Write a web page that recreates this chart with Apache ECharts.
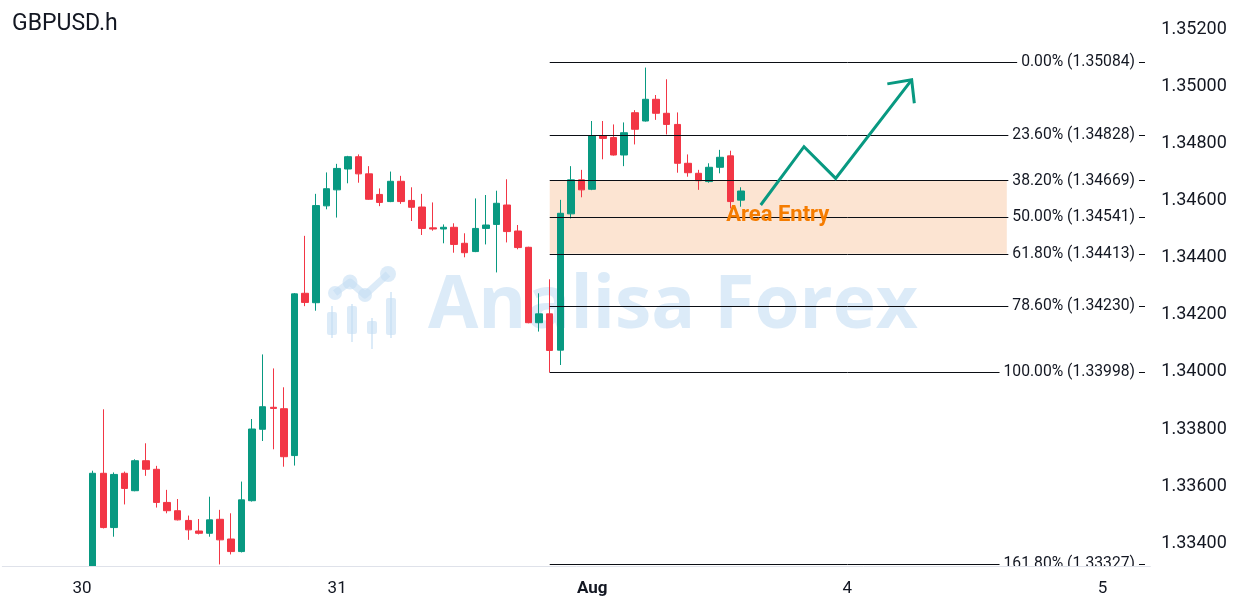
<!DOCTYPE html>
<html>
<head>
<meta charset="utf-8">
<title>GBPUSD.h</title>
<script src="https://cdn.jsdelivr.net/npm/echarts@6/dist/echarts.min.js"></script>
<style>
  html, body { margin: 0; padding: 0; background: #fff; }
  #chart { width: 1247px; height: 610px; }
</style>
</head>
<body>
<div id="chart"></div>
<script>
// hourly candles, Jul 30 01:00 -> Aug 1 13:00 (slot k = hours since Jul 30 00:00)
const opens = [1.33290, 1.33645, 1.33455, 1.33645, 1.33584, 1.33689, 1.33659, 1.33543, 1.33514, 1.33480,
  1.33443, 1.33435, 1.33484, 1.33415, 1.33371, 1.33549, 1.33799, 1.33876, 1.33871, 1.33707,
  1.34275, 1.34242, 1.34581, 1.34637, 1.34710, 1.34753, 1.34693, 1.34621, 1.34596, 1.34667,
  1.34600, 1.34577, 1.34504, 1.34500, 1.34506, 1.34450, 1.34421, 1.34502, 1.34516, 1.34584,
  1.34493, 1.34436, 1.34172, 1.34203, 1.34076, 1.34553, 1.34672, 1.34639, 1.34826, 1.34820,
  1.34759, 1.34907, 1.34878, 1.34954, 1.34905, 1.34866, 1.34730, 1.34695, 1.34666, 1.34716,
  1.34756, 1.34601];
const closes = [1.33645, 1.33455, 1.33641, 1.33592, 1.33689, 1.33659, 1.33543, 1.33514, 1.33482, 1.33447,
  1.33435, 1.33482, 1.33412, 1.33371, 1.33552, 1.33800, 1.33878, 1.33872, 1.33703, 1.34273,
  1.34243, 1.34582, 1.34641, 1.34712, 1.34753, 1.34693, 1.34604, 1.34593, 1.34667, 1.34596,
  1.34576, 1.34502, 1.34500, 1.34506, 1.34446, 1.34417, 1.34502, 1.34514, 1.34590, 1.34491,
  1.34435, 1.34172, 1.34203, 1.34075, 1.34555, 1.34672, 1.34637, 1.34826, 1.34817, 1.34759,
  1.34837, 1.34849, 1.34954, 1.34905, 1.34866, 1.34730, 1.34697, 1.34669, 1.34716, 1.34751,
  1.34596, 1.34633];
const lows = [1.33270, 1.33452, 1.33423, 1.33536, 1.33582, 1.33636, 1.33525, 1.33505, 1.33480, 1.33412,
  1.33431, 1.33423, 1.33326, 1.33361, 1.33368, 1.33546, 1.33758, 1.33729, 1.33668, 1.33672,
  1.34230, 1.34214, 1.34569, 1.34540, 1.34660, 1.34662, 1.34602, 1.34580, 1.34594, 1.34588,
  1.34528, 1.34479, 1.34494, 1.34450, 1.34417, 1.34401, 1.34419, 1.34446, 1.34348, 1.34453,
  1.34429, 1.34170, 1.34141, 1.33998, 1.34024, 1.34537, 1.34611, 1.34636, 1.34744, 1.34757,
  1.34720, 1.34796, 1.34876, 1.34882, 1.34831, 1.34697, 1.34683, 1.34637, 1.34662, 1.34695,
  1.34572, 1.34578];
const highs = [1.33654, 1.33869, 1.33648, 1.33651, 1.33694, 1.33750, 1.33671, 1.33587, 1.33555, 1.33497,
  1.33485, 1.33563, 1.33517, 1.33505, 1.33616, 1.33835, 1.34061, 1.34012, 1.33946, 1.34276,
  1.34476, 1.34623, 1.34698, 1.34728, 1.34756, 1.34761, 1.34720, 1.34642, 1.34701, 1.34686,
  1.34646, 1.34623, 1.34593, 1.34516, 1.34520, 1.34485, 1.34607, 1.34619, 1.34634, 1.34674,
  1.34514, 1.34438, 1.34275, 1.34324, 1.34602, 1.34720, 1.34707, 1.34878, 1.34878, 1.34866,
  1.34873, 1.34916, 1.35065, 1.34969, 1.35024, 1.34908, 1.34761, 1.34707, 1.34730, 1.34777,
  1.34774, 1.34646];
const firstCandle = 1;          // slot of first candle
const slotFrom = -7, slotTo = 100;

const dayTicks = { 0: '30', 24: '31', 48: 'Aug', 72: '4', 96: '5' };
const priceTicks = [1.334, 1.336, 1.338, 1.340, 1.342, 1.344, 1.346, 1.348, 1.350, 1.352];

const fibPct = ['0.00%', '23.60%', '38.20%', '50.00%', '61.80%', '78.60%', '100.00%', '161.80%'];
const fibPrice = [1.35084, 1.34828, 1.34669, 1.34541, 1.34413, 1.34230, 1.33998, 1.33327];
const fibFrom = 44;             // slot where the fib lines start
const zoneTop = 1.34669, zoneBottom = 1.34413, zoneFrom = 44, zoneTo = 87;

// projected path (slot, price)
const arrowPath = [[63.85, 1.34584], [67.92, 1.34788], [70.9, 1.34677], [78.05, 1.35022]];
const arrowHead = [[75.76, 1.35008], [78.05, 1.35022], [78.3, 1.34940]];
const entryText = 'Area Entry', entryAt = [60.6, 1.34546];

const slots = [];
for (let k = slotFrom; k <= slotTo; k++) slots.push('s' + k);
const idx = k => k - slotFrom;

const candles = opens.map((o, i) => [idx(firstCandle + i), o, closes[i], lows[i], highs[i]]);

const fibLines = fibPrice.map((p, i) => [
  { coord: [idx(fibFrom), p], name: fibPct[i] + ' (' + p.toFixed(5) + ')' },
  { coord: [idx(slotTo), p] }
]);

const font = 'Roboto, "Noto Sans", sans-serif';
const chart = echarts.init(document.getElementById('chart'));

chart.setOption({
  animation: false,
  backgroundColor: '#fff',
  title: {
    text: 'GBPUSD.h', left: 7, top: 8,
    textStyle: { color: '#131722', fontSize: 23, fontWeight: 'normal', fontFamily: font }
  },
  grid: { left: 2.3, right: 96.7, top: 0, bottom: 44 },
  xAxis: {
    type: 'category',
    data: slots,
    boundaryGap: true,
    z: 60,
    axisLine: { lineStyle: { color: '#dfe2ea', width: 1 } },
    axisTick: { show: false },
    splitLine: { show: false },
    axisLabel: {
      margin: 14,
      color: '#131722',
      fontSize: 17,
      fontFamily: font,
      interval: i => dayTicks[i + slotFrom] !== undefined,
      formatter: (v, i) => {
        const t = dayTicks[i + slotFrom];
        return t === 'Aug' ? '{b|Aug}' : t;
      },
      rich: { b: { fontWeight: 'bold', fontSize: 17, color: '#131722', fontFamily: font } }
    }
  },
  yAxis: {
    type: 'value',
    position: 'right',
    min: 1.333205,
    max: 1.353015,
    scale: true,
    axisLine: { show: false },
    axisTick: { show: false },
    splitLine: { show: false },
    axisLabel: {
      customValues: priceTicks,
      margin: 11,
      color: '#131722',
      fontSize: 18,
      fontFamily: font,
      formatter: v => v.toFixed(5)
    }
  },
  series: [{
    type: 'candlestick',
    data: candles,
    encode: { x: 0, y: [1, 2, 3, 4] },
    barWidth: 7,
    itemStyle: {
      color: '#089981', color0: '#f23645',
      borderColor: '#089981', borderColor0: '#f23645', borderWidth: 1
    },
    markArea: {
      silent: true,
      itemStyle: { color: '#fce4d2' },
      data: [[{ coord: [idx(zoneFrom), zoneTop] }, { coord: [idx(zoneTo), zoneBottom] }]]
    },
    markLine: {
      silent: true,
      symbol: ['none', 'none'],
      lineStyle: { color: '#0b0e14', width: 1, type: 'solid' },
      label: {
        show: true,
        position: 'insideEnd',
        distance: 6,
        color: '#131722',
        fontSize: 15.7,
        fontFamily: font,
        backgroundColor: '#fff',
        padding: [1, 4],
        formatter: '{b}'
      },
      data: fibLines
    }
  }]
});

// pixel helpers for the drawn annotations
const p0 = chart.convertToPixel({ xAxisIndex: 0 }, 0);
const p1 = chart.convertToPixel({ xAxisIndex: 0 }, 100);
const toPx = ([k, price]) => [
  p0 + (idx(k)) * (p1 - p0) / 100,
  chart.convertToPixel({ yAxisIndex: 0 }, price)
];
const entryPx = toPx(entryAt);

const wmColor = 'rgba(196, 222, 243, 0.6)';
chart.setOption({
  graphic: [
    {
      type: 'group', z: 40, silent: true,
      children: [
        { type: 'polyline', shape: { points: [[335, 293], [350, 282], [365, 295], [388, 274]] },
          style: { stroke: wmColor, lineWidth: 7, fill: null, lineJoin: 'round' } },
        { type: 'circle', shape: { cx: 335, cy: 293, r: 7 }, style: { fill: wmColor } },
        { type: 'circle', shape: { cx: 350, cy: 282, r: 7.5 }, style: { fill: wmColor } },
        { type: 'circle', shape: { cx: 365, cy: 295, r: 7 }, style: { fill: wmColor } },
        { type: 'circle', shape: { cx: 388, cy: 274, r: 8 }, style: { fill: wmColor } },
        { type: 'rect', shape: { x: 327, y: 312, width: 10, height: 23, r: 2 }, style: { fill: wmColor } },
        { type: 'rect', shape: { x: 347, y: 306, width: 10, height: 28, r: 2 }, style: { fill: wmColor } },
        { type: 'rect', shape: { x: 367, y: 321, width: 10, height: 13, r: 2 }, style: { fill: wmColor } },
        { type: 'rect', shape: { x: 386, y: 298, width: 10, height: 37, r: 2 }, style: { fill: wmColor } },
        { type: 'line', shape: { x1: 332, y1: 306, x2: 332, y2: 338 }, style: { stroke: wmColor, lineWidth: 2 } },
        { type: 'line', shape: { x1: 352, y1: 304, x2: 352, y2: 342 }, style: { stroke: wmColor, lineWidth: 2 } },
        { type: 'line', shape: { x1: 372, y1: 318, x2: 372, y2: 349 }, style: { stroke: wmColor, lineWidth: 2 } },
        { type: 'line', shape: { x1: 391, y1: 292, x2: 391, y2: 338 }, style: { stroke: wmColor, lineWidth: 2 } },
        { type: 'text', x: 428, y: 307,
          style: { text: 'Analisa Forex', fill: wmColor, font: 'bold 73px "Open Sans", sans-serif',
                   textVerticalAlign: 'middle', textAlign: 'left' } }
      ]
    },
    {
      type: 'polyline', z: 45, silent: true,
      shape: { points: arrowPath.map(toPx) },
      style: { stroke: '#089981', lineWidth: 3, fill: null, lineJoin: 'miter' }
    },
    {
      type: 'polyline', z: 45, silent: true,
      shape: { points: arrowHead.map(toPx) },
      style: { stroke: '#089981', lineWidth: 3, fill: null }
    },
    {
      type: 'text', z: 45, silent: true, x: entryPx[0], y: entryPx[1],
      style: { text: entryText, fill: '#f57c00', font: 'bold 22px Roboto, sans-serif',
               textVerticalAlign: 'middle', textAlign: 'left' }
    },
    {
      // keeps the lowest fib label cut at the time axis like the source
      type: 'rect', z: 50, silent: true,
      shape: { x: 0, y: 567, width: 1151, height: 50 },
      style: { fill: '#fff' }
    }
  ]
});
</script>
</body>
</html>
